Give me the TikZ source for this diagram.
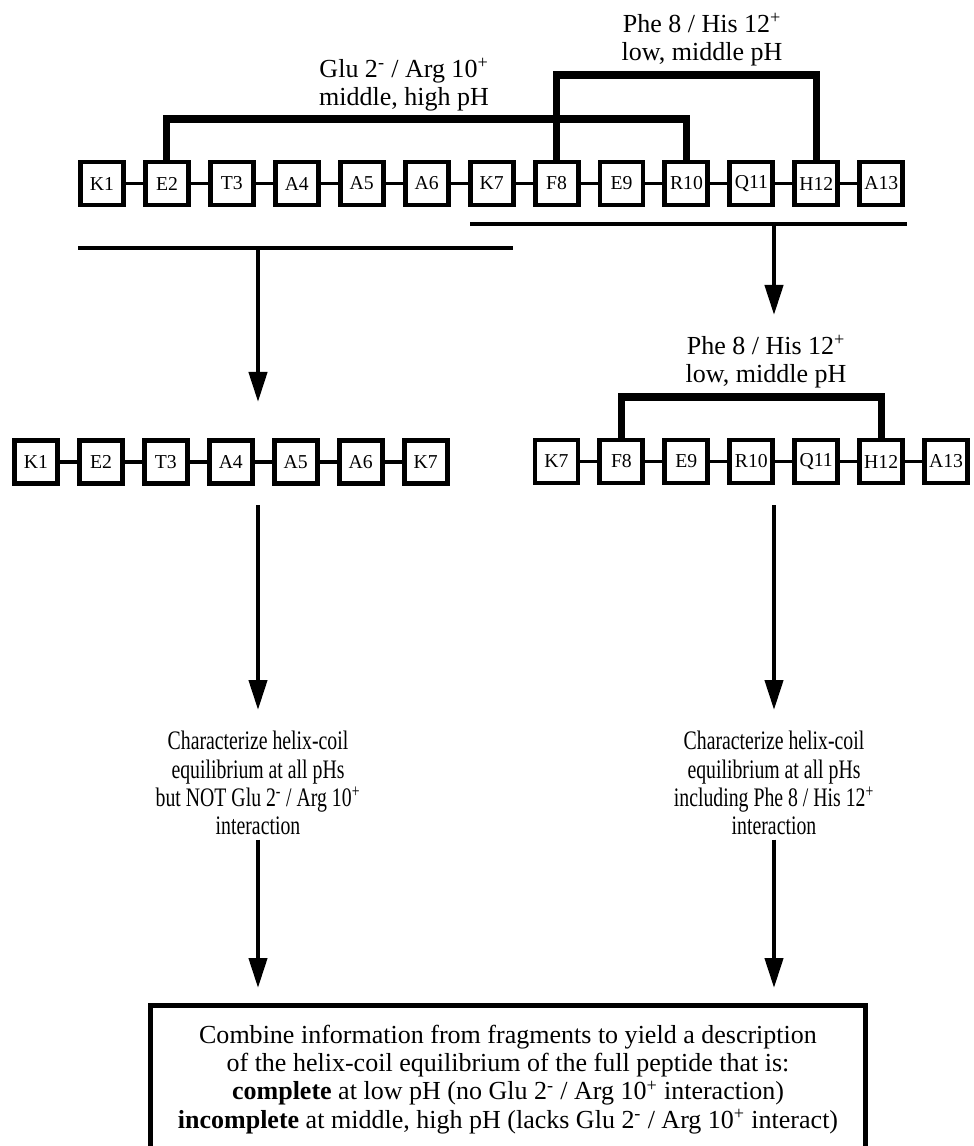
\documentclass[tikz,border=0pt]{standalone}
\usepackage{fontspec}
\setmainfont{Liberation Serif}
\newfontfamily\narrowserif[FakeStretch=0.74]{Liberation Serif}
\usepackage{tikz}
\usetikzlibrary{positioning,arrows.meta}

\begin{document}
\begin{tikzpicture}[x=0.025cm, y=-0.025cm, node distance=0.425cm, every node/.style={align=center},
res/.style={draw, line width=3.5pt, minimum size=1.075cm, inner sep=0pt, font=\fontsize{14}{16}\selectfont},
lbl/.style={font=\fontsize{18.5}{20}\selectfont},
note/.style={font=\narrowserif\fontsize{19}{20}\selectfont},
link/.style={line width=2.2pt},
bond/.style={line width=5pt},
cut/.style={line width=3pt},
flow/.style={line width=3pt, -{Triangle[width=0.45cm, length=0.75cm]}},
sumbox/.style={draw, line width=3.5pt, minimum width=17.85cm, minimum height=3.7cm, anchor=north}]
\useasboundingbox (0,0) rectangle (974,1146);

% full peptide
\node[res] (k1) at (102,183.5) {K1};
\node[res, right=of k1] (e2) {E2};
\node[res, right=of e2] (t3) {T3};
\node[res, right=of t3] (a4) {A4};
\node[res, right=of a4] (a5) {A5};
\node[res, right=of a5] (a6) {A6};
\node[res, right=of a6] (k7) {K7};
\node[res, right=of k7] (f8) {F8};
\node[res, right=of f8] (e9) {E9};
\node[res, right=of e9] (r10) {R10};
\node[res, right=of r10] (q11) {Q11};
\node[res, right=of q11] (h12) {H12};
\node[res, right=of h12] (a13) {A13};
\draw[link] (k1)--(e2) (e2)--(t3) (t3)--(a4) (a4)--(a5) (a5)--(a6) (a6)--(k7);
\draw[link] (k7)--(f8) (f8)--(e9) (e9)--(r10) (r10)--(q11) (q11)--(h12) (h12)--(a13);

% side chain contacts
\draw[bond] (e2.north) -- (e2.north |- 0,119) -| (r10.north);
\draw[bond] (f8.north) -- (f8.north |- 0,75) -| (h12.north);
\node[lbl] (glu) at (404,85) {Glu 2\textsuperscript{-} / Arg 10\textsuperscript{+}\\middle, high pH};
\node[lbl] (phe) at (702,40) {Phe 8 / His 12\textsuperscript{+}\\low, middle pH};

% fragments cut out
\coordinate (nl1) at (78,248);
\coordinate (nl2) at (513,248);
\coordinate (nr1) at (470,224);
\coordinate (nr2) at (907,224);
\draw[cut] (nl1)--(nl2);
\draw[cut] (nr1)--(nr2);
\coordinate (sl) at (258,248);
\coordinate (sr) at (774,224);
\coordinate (tl) at (258,402);
\coordinate (tr) at (774,315);
\draw[flow] (sl)--(tl);
\draw[flow] (sr)--(tr);

% N-terminal fragment
\node[res] (fk1) at (36,462) {K1};
\node[res, right=of fk1] (fe2) {E2};
\node[res, right=of fe2] (ft3) {T3};
\node[res, right=of ft3] (fa4) {A4};
\node[res, right=of fa4] (fa5) {A5};
\node[res, right=of fa5] (fa6) {A6};
\node[res, right=of fa6] (fk7) {K7};
\draw[link] (fk1)--(fe2) (fe2)--(ft3) (ft3)--(fa4) (fa4)--(fa5) (fa5)--(fa6) (fa6)--(fk7);

% C-terminal fragment
\node[res] (gk7) at (556.5,461.5) {K7};
\node[res, right=of gk7] (gf8) {F8};
\node[res, right=of gf8] (ge9) {E9};
\node[res, right=of ge9] (gr10) {R10};
\node[res, right=of gr10] (gq11) {Q11};
\node[res, right=of gq11] (gh12) {H12};
\node[res, right=of gh12] (ga13) {A13};
\draw[link] (gk7)--(gf8) (gf8)--(ge9) (ge9)--(gr10) (gr10)--(gq11) (gq11)--(gh12) (gh12)--(ga13);
\draw[bond] (gf8.north) -- (gf8.north |- 0,397) -| (gh12.north);
\node[lbl] (phe2) at (766,362) {Phe 8 / His 12\textsuperscript{+}\\low, middle pH};

% what each fragment tells
\node[note] (charl) at (258,783) {Characterize helix-coil\\equilibrium at all pHs\\but NOT Glu 2\textsuperscript{-} / Arg 10\textsuperscript{+}\\interaction};
\node[note] (charr) at (774,783) {Characterize helix-coil\\equilibrium at all pHs\\including Phe 8 / His 12\textsuperscript{+}\\interaction};
\coordinate (ml1) at (258,505);
\coordinate (ml2) at (258,710);
\coordinate (mr1) at (774,505);
\coordinate (mr2) at (774,710);
\draw[flow] (ml1)--(ml2);
\draw[flow] (mr1)--(mr2);

% combined result
\node[sumbox, lbl] (comb) at (508,1003) {Combine information from fragments to yield a description\\of the helix-coil equilibrium of the full peptide that is:\\\textbf{complete} at low pH (no Glu 2\textsuperscript{-} / Arg 10\textsuperscript{+} interaction)\\\textbf{incomplete} at middle, high pH (lacks Glu 2\textsuperscript{-} / Arg 10\textsuperscript{+} interact)};
\coordinate (bl) at (258,988);
\coordinate (br) at (774,988);
\draw[flow] (charl)--(bl);
\draw[flow] (charr)--(br);
\end{tikzpicture}
\end{document}
